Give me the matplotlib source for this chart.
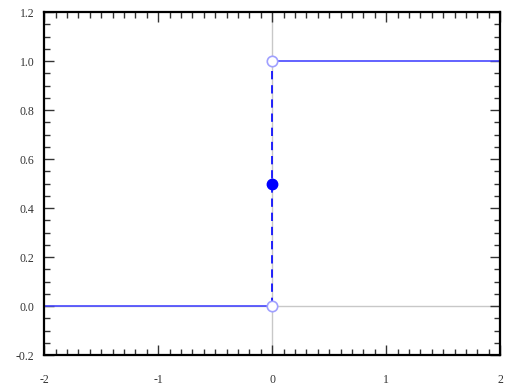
import numpy as np
from matplotlib import pyplot as plt
from matplotlib.ticker import MultipleLocator

# 헤비사이드 계단 함수
x_left = [-2, 0]
y_left = [0, 0]
x_right = [0, 2]
y_right = [1, 1]
x_jump = [0, 0]
y_jump = [0, 1]
open_x = [0, 0]
open_y = [0, 1]
half_x = [0]
half_y = [0.5]

plt.rcParams['font.family'] = ['Liberation Serif', 'DejaVu Serif']
fig = plt.figure(figsize=(5.13, 3.88), dpi=100)
ax = fig.add_axes([0.086, 0.085, 0.889, 0.884])

ax.axhline(0, color='#c8c8c8', lw=1, zorder=1)
ax.axvline(0, color='#c8c8c8', lw=1, zorder=1)

ax.plot(x_left, y_left, color='#4848ff', lw=1.2, zorder=2)
ax.plot(x_right, y_right, color='#4848ff', lw=1.2, zorder=2)
ax.plot(x_jump, y_jump, color='#0000ff', lw=1.2, linestyle=(0, (5, 3.5)), zorder=2)
ax.plot(open_x, open_y, 'o', ms=7.5, mfc='white', mec='#a0a0ff', mew=1.2, zorder=3)
ax.plot(half_x, half_y, 'o', ms=7.5, color='#0000ff', zorder=3)

ax.set_xlim(-2, 2)
ax.set_ylim(-0.2, 1.2)
ax.xaxis.set_major_locator(MultipleLocator(1))
ax.xaxis.set_minor_locator(MultipleLocator(0.1))
ax.yaxis.set_major_locator(MultipleLocator(0.2))
ax.yaxis.set_minor_locator(MultipleLocator(0.05))
ax.xaxis.set_major_formatter(plt.FuncFormatter(lambda v, p: f"{v:.0f}"))
ax.yaxis.set_major_formatter(plt.FuncFormatter(lambda v, p: f"{v:.1f}"))
ax.tick_params(which='both', direction='in', top=True, right=True, width=1,
               labelsize=8.5, color='#333333', labelcolor='#333333')
ax.tick_params(which='major', length=7)
ax.tick_params(which='minor', length=4)
ax.tick_params(axis='x', pad=14)
ax.tick_params(axis='y', pad=7)
for s in ax.spines.values():
    s.set_linewidth(1.6)

fig.savefig('out.png', dpi=100)
